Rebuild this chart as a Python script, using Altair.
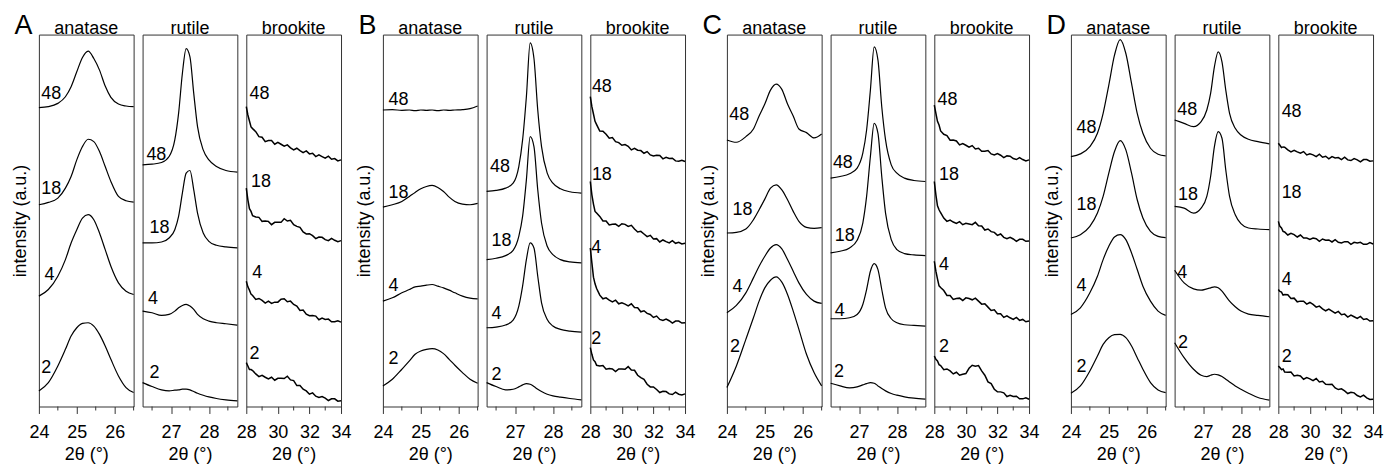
import altair as alt
import pandas as pd

# ---------------- data ----------------
ANATASE_X = [24.0, 24.25, 24.5, 24.7, 24.85, 25.0, 25.15, 25.3, 25.45, 25.6, 25.75, 25.9, 26.1, 26.3, 26.5]
RUTILE_X = [26.25, 26.5, 26.75, 26.95, 27.1, 27.2, 27.3, 27.4, 27.5, 27.6, 27.7, 27.85, 28.0, 28.2, 28.45, 28.75]
BROOKITE_X = [28.0, 28.1, 28.2, 28.3, 28.4, 28.6, 28.8, 29.0, 29.2, 29.4, 29.6, 29.8, 30.0, 30.2, 30.4,
              30.6, 30.8, 31.0, 31.2, 31.4, 31.6, 31.8, 32.0, 32.2, 32.4, 32.6, 32.8, 33.0, 33.2, 33.4,
              33.6, 33.8, 34.0]

A_ANATASE = {
    "48": [899, 902, 912, 932, 962, 1007, 1050, 1069, 1047, 1012, 964, 930, 910, 904, 902],
    "18": [607, 614, 627, 657, 692, 742, 782, 804, 797, 767, 722, 677, 632, 619, 615],
    "4": [332, 352, 392, 442, 492, 532, 567, 577, 562, 522, 472, 422, 372, 347, 337],
    "2": [47, 72, 122, 172, 212, 237, 250, 252, 242, 217, 182, 142, 92, 57, 42],
}
A_RUTILE = {
    "48": [727, 729, 734, 752, 802, 882, 1002, 1077, 1052, 942, 842, 772, 742, 722, 710, 705],
    "18": [492, 492, 495, 507, 532, 572, 642, 702, 710, 652, 582, 522, 497, 485, 480, 477],
    "4": [287, 282, 274, 277, 287, 297, 304, 307, 302, 292, 277, 264, 257, 252, 249, 245],
    "2": [72, 60, 50, 47, 49, 50, 52, 52, 50, 45, 40, 34, 29, 24, 20, 17],
}
A_BROOKITE = {
    "48": [902, 877, 859, 841, 836, 827, 812, 810, 797, 800, 800, 789, 795, 789, 783, 787, 778, 772, 777, 770,
           764, 769, 760, 762, 752, 757, 752, 747, 753, 744, 746, 739, 742],
    "18": [657, 622, 595, 587, 574, 570, 569, 557, 558, 557, 547, 554, 554, 554, 565, 558, 560, 547, 542, 539,
           525, 519, 520, 514, 505, 510, 509, 502, 499, 506, 500, 496, 499],
    "4": [377, 360, 350, 338, 334, 322, 325, 319, 311, 317, 310, 314, 314, 323, 324, 315, 317, 307, 302, 289,
          290, 278, 273, 274, 272, 261, 266, 262, 263, 255, 255, 258, 254],
    "2": [132, 122, 111, 111, 108, 98, 90, 94, 88, 83, 88, 79, 85, 85, 84, 91, 80, 78, 63, 63,
          52, 47, 37, 41, 31, 27, 30, 25, 18, 23, 23, 16, 17],
}

B_ANATASE = {
    "48": [892, 893, 891, 892, 890, 892, 891, 892, 890, 892, 891, 892, 893, 896, 904],
    "18": [600, 607, 617, 632, 644, 655, 662, 665, 659, 647, 630, 617, 609, 607, 611],
    "4": [317, 327, 342, 352, 360, 362, 365, 367, 362, 357, 350, 342, 332, 326, 324],
    "2": [62, 82, 112, 137, 157, 167, 172, 174, 170, 159, 142, 124, 102, 82, 70],
}
B_RUTILE = {
    "48": [647, 650, 657, 672, 722, 802, 932, 1094, 1047, 892, 782, 702, 672, 655, 646, 642],
    "18": [442, 446, 454, 470, 512, 572, 682, 812, 782, 652, 552, 482, 457, 442, 435, 432],
    "4": [237, 239, 245, 260, 302, 362, 442, 492, 477, 392, 312, 262, 242, 232, 227, 224],
    "2": [72, 60, 50, 52, 59, 65, 69, 67, 60, 52, 45, 37, 32, 28, 24, 20],
}
B_BROOKITE = {
    "48": [932, 902, 880, 858, 848, 829, 828, 819, 807, 809, 797, 794, 786, 788, 783, 772, 777, 771, 770, 762,
           767, 757, 754, 756, 755, 745, 750, 746, 747, 739, 738, 741, 737],
    "18": [677, 637, 609, 587, 582, 572, 558, 558, 546, 548, 549, 542, 550, 548, 542, 545, 534, 525, 527, 519,
           511, 515, 504, 505, 495, 501, 496, 492, 499, 491, 494, 489, 491],
    "4": [477, 432, 389, 369, 355, 335, 324, 327, 320, 315, 320, 309, 312, 308, 303, 309, 298, 297, 285, 288,
          280, 277, 268, 272, 262, 259, 263, 258, 251, 257, 257, 251, 252],
    "2": [177, 157, 140, 135, 124, 122, 123, 112, 114, 113, 105, 113, 113, 112, 120, 110, 109, 94, 87, 82,
          67, 59, 59, 51, 42, 46, 45, 38, 36, 43, 37, 35, 38],
}

C_ANATASE = {
    "48": [802, 795, 812, 835, 874, 910, 952, 970, 954, 910, 874, 835, 824, 808, 820],
    "18": [522, 524, 534, 562, 592, 624, 657, 667, 652, 622, 587, 557, 539, 536, 538],
    "4": [282, 304, 342, 387, 422, 452, 477, 487, 474, 442, 407, 372, 337, 317, 310],
    "2": [57, 122, 202, 267, 317, 357, 380, 390, 374, 337, 287, 232, 157, 102, 62],
}
C_RUTILE = {
    "48": [687, 692, 700, 717, 762, 832, 952, 1082, 1042, 902, 802, 727, 702, 687, 680, 677],
    "18": [462, 467, 477, 500, 552, 632, 752, 852, 822, 692, 582, 502, 472, 460, 456, 454],
    "4": [264, 264, 267, 277, 307, 352, 407, 430, 412, 352, 297, 264, 252, 246, 244, 242],
    "2": [70, 62, 56, 59, 65, 69, 72, 70, 62, 54, 47, 39, 34, 29, 25, 22],
}
C_BROOKITE = {
    "48": [907, 882, 858, 847, 829, 819, 815, 801, 802, 799, 787, 791, 786, 780, 785, 775, 777, 768, 768, 770,
           760, 757, 761, 756, 749, 754, 753, 746, 743, 749, 743, 739, 742],
    "18": [677, 637, 604, 592, 583, 567, 557, 561, 555, 551, 556, 547, 551, 549, 547, 554, 544, 543, 531, 534,
           526, 524, 515, 519, 509, 505, 509, 504, 497, 503, 503, 497, 498],
    "4": [437, 407, 384, 363, 358, 349, 334, 334, 322, 325, 326, 319, 327, 325, 321, 326, 317, 308, 309, 299,
          289, 291, 279, 279, 268, 273, 267, 262, 268, 259, 262, 255, 257],
    "2": [152, 142, 137, 126, 123, 111, 113, 107, 98, 103, 94, 97, 99, 115, 124, 121, 123, 107, 94, 74,
          69, 52, 44, 44, 41, 30, 34, 30, 31, 23, 23, 26, 22],
}

D_ANATASE = {
    "48": [752, 760, 782, 822, 882, 967, 1057, 1104, 1062, 972, 882, 822, 777, 759, 754],
    "18": [507, 517, 542, 582, 632, 702, 767, 800, 772, 702, 622, 567, 527, 512, 508],
    "4": [277, 297, 342, 392, 442, 482, 510, 517, 502, 462, 412, 362, 317, 287, 274],
    "2": [40, 62, 107, 152, 187, 207, 216, 217, 207, 182, 147, 112, 72, 50, 42],
}
D_RUTILE = {
    "48": [862, 852, 842, 857, 892, 942, 1022, 1067, 1037, 952, 882, 837, 817, 804, 797, 790],
    "18": [602, 597, 582, 597, 632, 692, 782, 827, 807, 712, 632, 577, 550, 537, 534, 532],
    "4": [410, 372, 354, 350, 354, 357, 360, 357, 347, 332, 317, 300, 287, 278, 274, 270],
    "2": [192, 147, 112, 94, 90, 94, 97, 95, 90, 82, 74, 62, 52, 40, 27, 19],
}
D_BROOKITE = {
    "48": [792, 786, 779, 781, 780, 772, 766, 771, 766, 762, 767, 757, 760, 757, 752, 759, 750, 753, 745, 752,
           748, 749, 743, 750, 742, 740, 746, 742, 736, 743, 743, 738, 739],
    "18": [557, 542, 537, 527, 525, 516, 521, 517, 510, 516, 507, 507, 503, 507, 505, 497, 504, 500, 501, 495,
           502, 494, 492, 496, 496, 488, 494, 492, 494, 488, 488, 493, 489],
    "4": [352, 346, 344, 335, 337, 336, 325, 326, 315, 317, 317, 308, 313, 307, 299, 302, 294, 288, 293, 287,
          281, 286, 276, 278, 269, 275, 270, 265, 271, 262, 264, 257, 258],
    "2": [122, 117, 111, 113, 104, 103, 104, 92, 94, 92, 82, 87, 83, 78, 84, 74, 76, 67, 66, 67,
          56, 51, 53, 47, 39, 43, 41, 33, 29, 34, 26, 21, 22],
}

# curve annotations (label, x in degrees, intensity)
A_LABELS = {
    "anatase": [("48", 24.06, 939), ("18", 24.06, 655), ("4", 24.15, 397), ("2", 24.06, 117)],
    "rutile": [("48", 26.35, 757), ("18", 26.43, 537), ("4", 26.39, 322), ("2", 26.43, 102)],
    "brookite": [("48", 28.2, 939), ("18", 28.3, 674), ("4", 28.38, 402), ("2", 28.2, 157)],
}
B_LABELS = {
    "anatase": [("48", 24.15, 922), ("18", 24.15, 642), ("4", 24.15, 362), ("2", 24.15, 144)],
    "rutile": [("48", 26.34, 722), ("18", 26.38, 497), ("4", 26.38, 277), ("2", 26.38, 94)],
    "brookite": [("48", 28.1, 962), ("18", 28.1, 697), ("4", 28.06, 477), ("2", 28.06, 204)],
}
C_LABELS = {
    "anatase": [("48", 24.06, 877), ("18", 24.15, 592), ("4", 24.15, 360), ("2", 24.08, 179)],
    "rutile": [("48", 26.31, 732), ("18", 26.36, 512), ("4", 26.36, 287), ("2", 26.34, 104)],
    "brookite": [("48", 28.2, 922), ("18", 28.3, 697), ("4", 28.3, 427), ("2", 28.3, 180)],
}
D_LABELS = {
    "anatase": [("48", 24.15, 837), ("18", 24.15, 607), ("4", 24.15, 362), ("2", 24.15, 120)],
    "rutile": [("48", 26.32, 892), ("18", 26.34, 637), ("4", 26.32, 402), ("2", 26.34, 190)],
    "brookite": [("48", 28.21, 887), ("18", 28.21, 642), ("4", 28.21, 382), ("2", 28.21, 150)],
}

PHASES = ["anatase", "rutile", "brookite"]
X_DOMAINS = {"anatase": [24.0, 26.5], "rutile": [26.25, 28.75], "brookite": [28.0, 34.0]}
MAJOR_TICKS = {"anatase": [24, 25, 26], "rutile": [27, 28], "brookite": [28, 30, 32, 34]}
MINOR_TICKS = {"anatase": [24.5, 25.5, 26.5], "rutile": [26.5, 27.5, 28.5], "brookite": [29, 31, 33]}
Y_DOMAIN = [0, 1119]

GROUPS = [
    ("A", {"anatase": A_ANATASE, "rutile": A_RUTILE, "brookite": A_BROOKITE}, A_LABELS),
    ("B", {"anatase": B_ANATASE, "rutile": B_RUTILE, "brookite": B_BROOKITE}, B_LABELS),
    ("C", {"anatase": C_ANATASE, "rutile": C_RUTILE, "brookite": C_BROOKITE}, C_LABELS),
    ("D", {"anatase": D_ANATASE, "rutile": D_RUTILE, "brookite": D_BROOKITE}, D_LABELS),
]
XS = {"anatase": ANATASE_X, "rutile": RUTILE_X, "brookite": BROOKITE_X}

# ---------------- styling ----------------
FONT = "Liberation Sans"
FRAME = "#333333"
W, H = 95, 373
GAP = 9
LEAD_W, SPACER_W = 20, 24


def make_panel(phase, curves, labels):
    xs = XS[phase]
    rows = []
    for t, ys in curves.items():
        assert len(ys) == len(xs), (phase, t, len(ys), len(xs))
        for x, y in zip(xs, ys):
            rows.append({"x": x, "y": y, "t": t})
    df = pd.DataFrame(rows)
    lab = pd.DataFrame([{"t": t, "x": x, "y": y} for t, x, y in labels])
    minor = pd.DataFrame({"x": MINOR_TICKS[phase]})

    xscale = alt.Scale(domain=X_DOMAINS[phase], nice=False, zero=False)
    yscale = alt.Scale(domain=Y_DOMAIN, nice=False, zero=False)

    def xaxis():
        return alt.Axis(values=MAJOR_TICKS[phase], format="d", title="2θ (°)", grid=False, domain=False,
                        tickSize=7, tickColor=FRAME, tickWidth=1, labelFontSize=18, labelFont=FONT,
                        labelColor="#000000", labelPadding=10, labelFlush=False, labelOverlap=False,
                        labelBound=False, tickCount=len(MAJOR_TICKS[phase]),
                        titleFontSize=18, titleFont=FONT, titleFontWeight="normal", titlePadding=4,
                        titleColor="#000000")

    def yaxis():
        if phase == "anatase":
            return alt.Axis(title="intensity (a.u.)", labels=False, ticks=False, domain=False, grid=False,
                            titleFontSize=18, titleFont=FONT, titleFontWeight="normal", titlePadding=9,
                            titleColor="#000000")
        return None

    sw = 1.5 if phase == "brookite" else 1.2
    interp = "linear" if phase == "brookite" else "monotone"
    lines = alt.Chart(df).mark_line(color="#000000", strokeWidth=sw, interpolate=interp).encode(
        x=alt.X("x:Q", scale=xscale, axis=xaxis()),
        y=alt.Y("y:Q", scale=yscale, axis=yaxis()),
        detail="t:N",
    )
    texts = alt.Chart(lab).mark_text(align="left", baseline="middle", fontSize=18, font=FONT,
                                     color="#000000").encode(
        x=alt.X("x:Q", scale=xscale, axis=xaxis()), y=alt.Y("y:Q", scale=yscale, axis=yaxis()),
        text="t:N")
    ticks = alt.Chart(minor).mark_rule(color=FRAME, strokeWidth=1).encode(
        x=alt.X("x:Q", scale=xscale, axis=xaxis()), y=alt.value(H), y2=alt.value(H + 4))
    return alt.layer(lines, texts, ticks).properties(
        width=W, height=H,
        title=alt.TitleParams(phase, fontSize=18, font=FONT, fontWeight="normal", color="#000000",
                              offset=-3, anchor="middle"),
    )


def make_spacer(letter, width):
    # empty column that carries the panel-group letter
    return alt.Chart(pd.DataFrame({"k": [letter]})).mark_text(
        align="left", baseline="alphabetic", fontSize=27, font=FONT, color="#000000").encode(
        x=alt.value(width + GAP - 24.5), y=alt.value(-1), text="k:N"
    ).properties(width=width, height=H, view=alt.ViewBackground(stroke="transparent"))


items = []
for i, (letter, data, labs) in enumerate(GROUPS):
    items.append(make_spacer(letter, LEAD_W if i == 0 else SPACER_W))
    for ph in PHASES:
        items.append(make_panel(ph, data[ph], labs[ph]))

chart = alt.hconcat(*items, spacing=GAP, bounds="flush").properties(
    padding={"left": 9, "top": 10, "right": 5, "bottom": 2},
    background="white",
).configure_view(stroke=FRAME, strokeWidth=1)

chart.save("out.html", embed_options={"renderer": "svg", "actions": False})
